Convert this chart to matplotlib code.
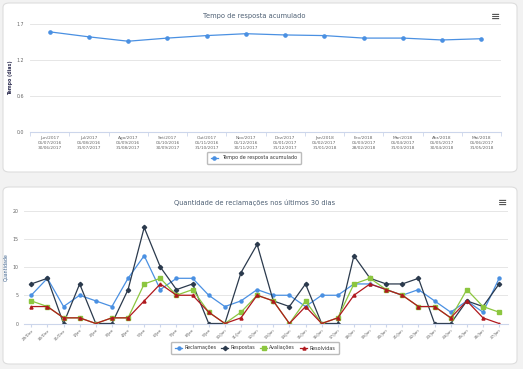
import numpy as np
import matplotlib.pyplot as plt
from matplotlib.patches import FancyBboxPatch

# Dados - tempo de resposta acumulado
meses = ['Jun/2017\n01/07/2016\n30/06/2017', 'Jul/2017\n01/08/2016\n31/07/2017',
         'Ago/2017\n01/09/2016\n31/08/2017', 'Set/2017\n01/10/2016\n30/09/2017',
         'Out/2017\n01/11/2016\n31/10/2017', 'Nov/2017\n01/12/2016\n30/11/2017',
         'Dez/2017\n01/01/2017\n31/12/2017', 'Jan/2018\n01/02/2017\n31/01/2018',
         'Fev/2018\n01/03/2017\n28/02/2018', 'Mar/2018\n01/04/2017\n31/03/2018',
         'Abr/2018\n01/05/2017\n30/04/2018', 'Mai/2018\n01/06/2017\n31/05/2018']
tempo = [1.60, 1.52, 1.45, 1.50, 1.54, 1.57, 1.55, 1.54, 1.50, 1.50, 1.47, 1.49]

# Dados - reclamações nos últimos 30 dias
dias = ['29/Dez', '30/Dez', '31/Dez'] + [f'{d}/Jan' for d in range(1, 28)]
reclamacoes = [5, 8, 3, 5, 4, 3, 8, 12, 6, 8, 8, 5, 3, 4, 6, 5, 5, 3, 5, 5, 7, 7, 6, 5, 6, 4, 2, 4, 2, 8]
respostas = [7, 8, 0, 7, 0, 0, 6, 17, 10, 6, 7, 0, 0, 9, 14, 4, 3, 7, 0, 0, 12, 8, 7, 7, 8, 0, 0, 4, 3, 7]
avaliacoes = [4, 3, 1, 1, 0, 1, 1, 7, 8, 5, 6, 2, 0, 2, 5, 4, 0, 4, 0, 1, 7, 8, 6, 5, 3, 3, 1, 6, 3, 2]
resolvidas = [3, 3, 1, 1, 0, 1, 1, 4, 7, 5, 5, 2, 0, 1, 5, 4, 0, 3, 0, 1, 5, 7, 6, 5, 3, 3, 1, 4, 1, 0]

W, H = 523, 369


def rect(x, y, w, h):
    return [x / W, 1 - (y + h) / H, w / W, h / H]


fig = plt.figure(figsize=(W / 100, H / 100), dpi=100)
fig.patch.set_facecolor('#f2f2f2')

# cartões brancos
for (x, y, w, h) in [(3, 3, 514, 169), (3, 187, 514, 177)]:
    fig.patches.append(FancyBboxPatch((x / W, 1 - (y + h) / H), w / W, h / H,
                                      boxstyle='round,pad=0,rounding_size=0.012',
                                      transform=fig.transFigure, facecolor='white',
                                      edgecolor='#dddddd', linewidth=0.8, zorder=-10))

grid_c = '#e6e6e6'
txt_c = '#666666'
tick_fs = 3.4
title_fs = 4.8
leg_fs = 3.5

# ---- Gráfico 1 ----
ax1 = fig.add_axes(rect(30, 24, 471, 108))
ax1.patch.set_alpha(0)
x1 = np.arange(len(tempo))
ax1.plot(x1, tempo, color='#4a90e2', marker='o', markersize=2.3, linewidth=0.9)
ax1.set_xlim(-0.5, len(tempo) - 0.5)
ax1.set_ylim(0, 1.725)
ax1.set_yticks([0, 0.575, 1.15, 1.725])
ax1.set_yticklabels(['0.0', '0.6', '1.2', '1.7'])
ax1.set_xticks(x1)
ax1.set_xticklabels(meses, fontsize=3.1, color=txt_c, linespacing=1.35)
ax1.set_xticks(np.arange(-0.5, len(tempo)), minor=True)
ax1.tick_params(axis='x', which='major', length=0, pad=3)
ax1.tick_params(axis='x', which='minor', length=3, color='#ccd6eb')
ax1.tick_params(axis='y', length=0, labelsize=tick_fs, labelcolor=txt_c, pad=4)
ax1.grid(axis='y', color=grid_c, linewidth=0.7)
ax1.set_axisbelow(True)
for s in ['top', 'right', 'left']:
    ax1.spines[s].set_visible(False)
ax1.spines['bottom'].set_color('#ccd6eb')
ax1.set_ylabel('Tempo (dias)', fontsize=3.4, color='#333355', fontweight='bold')
ax1.yaxis.set_label_coords(-0.036, 0.5)
fig.text(254 / W, 1 - 16 / H, 'Tempo de resposta acumulado', ha='center', va='center',
         fontsize=title_fs, color='#4d5f73')
fig.text(496 / W, 1 - 17 / H, '≡', ha='center', va='center', fontsize=8, color='#555555',
         fontweight='bold')
leg1 = ax1.legend(['Tempo de resposta acumulado'], loc='center', bbox_to_anchor=(254 / W, 1 - 158 / H),
                  bbox_transform=fig.transFigure, fontsize=leg_fs, frameon=True, fancybox=True,
                  edgecolor='#aaaaaa', handlelength=1.5, borderpad=0.8)
for t in leg1.get_texts():
    t.set_color('#333333')

# ---- Gráfico 2 ----
ax2 = fig.add_axes(rect(24, 210.5, 484, 113))
ax2.patch.set_alpha(0)
x2 = np.arange(len(dias))
series = [(reclamacoes, 'Reclamações', '#4a90e2', 'o'),
          (respostas, 'Respostas', '#2b3a4d', 'D'),
          (avaliacoes, 'Avaliações', '#8cc63f', 's'),
          (resolvidas, 'Resolvidas', '#b0191e', '^')]
for vals, nome, cor, mk in series:
    ax2.plot(x2, vals, color=cor, marker=mk, markersize=2.2, linewidth=0.9, label=nome)
ax2.set_xlim(-0.45, len(dias) - 0.45)
ax2.set_ylim(0, 20)
ax2.set_yticks([0, 5, 10, 15, 20])
ax2.set_xticks(x2)
ax2.set_xticklabels(dias, rotation=45, ha='right', rotation_mode='anchor', fontsize=3.0,
                    color=txt_c)
ax2.tick_params(axis='x', length=2, color='#ccd6eb', pad=1.5)
ax2.tick_params(axis='y', length=0, labelsize=tick_fs, labelcolor=txt_c, pad=4)
ax2.grid(axis='y', color=grid_c, linewidth=0.7)
ax2.set_axisbelow(True)
for s in ['top', 'right', 'left']:
    ax2.spines[s].set_visible(False)
ax2.spines['bottom'].set_color('#ccd6eb')
ax2.set_ylabel('Quantidade', fontsize=3.4, color='#3a5f8a')
ax2.yaxis.set_label_coords(-0.033, 0.5)
fig.text(255 / W, 1 - 202.5 / H, 'Quantidade de reclamações nos últimos 30 dias', ha='center',
         va='center', fontsize=title_fs, color='#4d5f73')
fig.text(503 / W, 1 - 203 / H, '≡', ha='center', va='center', fontsize=8, color='#555555',
         fontweight='bold')
leg2 = ax2.legend(loc='center', bbox_to_anchor=(255 / W, 1 - 348 / H), bbox_transform=fig.transFigure,
                  ncol=4, fontsize=leg_fs, frameon=True, fancybox=True, edgecolor='#aaaaaa',
                  handlelength=1.5, columnspacing=1.0, borderpad=0.8, handletextpad=0.4)
for t in leg2.get_texts():
    t.set_color('#333333')

fig.savefig('out.png', dpi=100)
